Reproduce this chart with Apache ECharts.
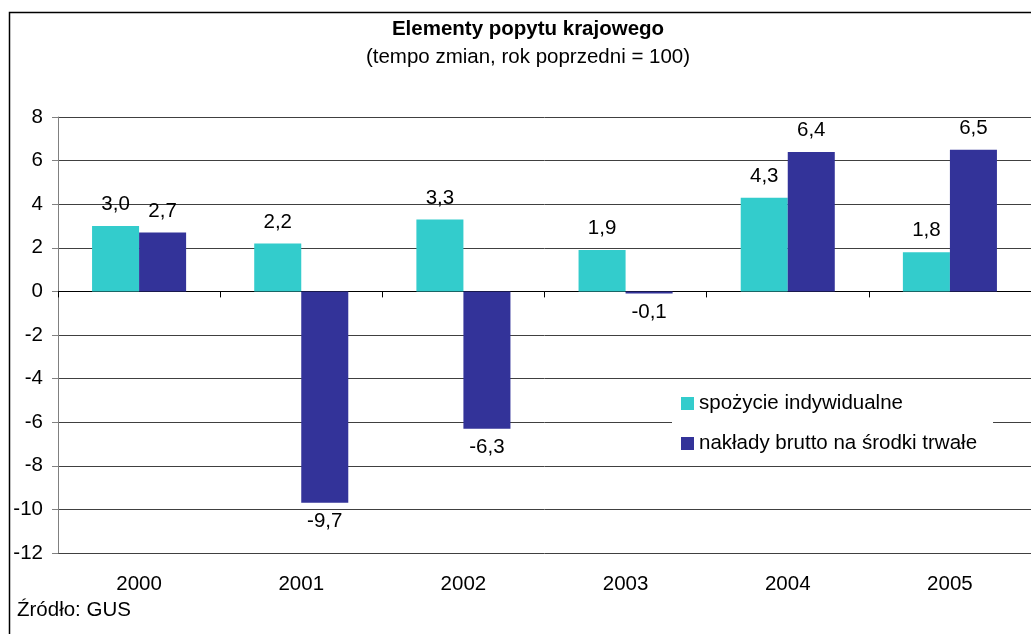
<!DOCTYPE html>
<html>
<head>
<meta charset="utf-8">
<script src="https://cdn.jsdelivr.net/npm/echarts@6/dist/echarts.min.js"></script>
<style>
  html, body { margin: 0; padding: 0; background: #fff; }
  #chart { width: 1031px; height: 634px; }
</style>
</head>
<body>
<div id="chart"></div>
<script>
var years = ['2000', '2001', '2002', '2003', '2004', '2005'];
var spozycie = [3.0, 2.2, 3.3, 1.9, 4.3, 1.8];
var naklady = [2.7, -9.7, -6.3, -0.1, 6.4, 6.5];
var seriesNames = ['spożycie indywidualne', 'nakłady brutto na środki trwałe'];

var fontFamily = 'Arial, "Liberation Sans", sans-serif';
var fs = 20.5;

function withLabels(values) {
  return values.map(function (v) {
    return {
      value: v,
      label: v < 0 ? { position: 'bottom', distance: 8 } : { position: 'top', distance: 11 }
    };
  });
}

function fmt(p) {
  return p.value.toFixed(1).replace('.', ',');
}

var chart = echarts.init(document.getElementById('chart'));
chart.setOption({
  animation: false,
  textStyle: { fontFamily: fontFamily },
  title: {
    text: 'Elementy popytu krajowego',
    subtext: '(tempo zmian, rok poprzedni = 100)',
    left: 523,
    textAlign: 'center',
    top: 14,
    itemGap: 7,
    textStyle: { fontSize: fs, fontWeight: 'bold', color: '#000', fontFamily: fontFamily },
    subtextStyle: { fontSize: fs, color: '#000', fontFamily: fontFamily }
  },
  graphic: [
    {
      type: 'rect',
      shape: { x: 9.5, y: 12.5, width: 1200, height: 800 },
      style: { fill: 'none', stroke: '#000', lineWidth: 1.5 },
      silent: true
    },
    {
      type: 'text',
      left: 17,
      top: 600,
      style: { text: 'Źródło: GUS', fontSize: fs, fill: '#000', fontFamily: fontFamily }
    }
  ],
  legend: {
    orient: 'vertical',
    left: 672,
    top: 385,
    padding: [8, 16, 8, 9],
    backgroundColor: '#fff',
    itemWidth: 13,
    itemHeight: 13,
    itemGap: 19,
    icon: 'rect',
    textStyle: { fontSize: fs, color: '#000', fontFamily: fontFamily },
    data: seriesNames
  },
  grid: { left: 58, right: -11, top: 117, bottom: 81 },
  xAxis: [
    {
      type: 'category',
      data: years,
      axisLine: { onZero: true, lineStyle: { color: '#000', width: 1 } },
      axisTick: { show: true, length: 6, lineStyle: { color: '#000' } },
      axisLabel: { show: false }
    },
    {
      type: 'category',
      data: years,
      position: 'bottom',
      axisLine: { show: false },
      axisTick: { show: false },
      axisLabel: { margin: 21, fontSize: fs, color: '#000', fontFamily: fontFamily }
    }
  ],
  yAxis: {
    type: 'value',
    min: -12,
    max: 8,
    interval: 2,
    axisLine: { show: true, lineStyle: { color: '#808080' } },
    axisTick: { show: true, length: 6, lineStyle: { color: '#808080' } },
    axisLabel: { margin: 15, fontSize: fs, color: '#000', fontFamily: fontFamily },
    splitLine: { show: true, lineStyle: { color: '#404040', width: 1 } }
  },
  series: [
    {
      name: seriesNames[0],
      type: 'bar',
      xAxisIndex: 0,
      data: withLabels(spozycie),
      barGap: '0%',
      barCategoryGap: '42%',
      itemStyle: { color: '#33CCCC' },
      label: { show: true, fontSize: fs, color: '#000', fontFamily: fontFamily, formatter: fmt }
    },
    {
      name: seriesNames[1],
      type: 'bar',
      xAxisIndex: 0,
      data: withLabels(naklady),
      barGap: '0%',
      barCategoryGap: '42%',
      itemStyle: { color: '#333399' },
      label: { show: true, fontSize: fs, color: '#000', fontFamily: fontFamily, formatter: fmt }
    }
  ]
});
</script>
</body>
</html>
